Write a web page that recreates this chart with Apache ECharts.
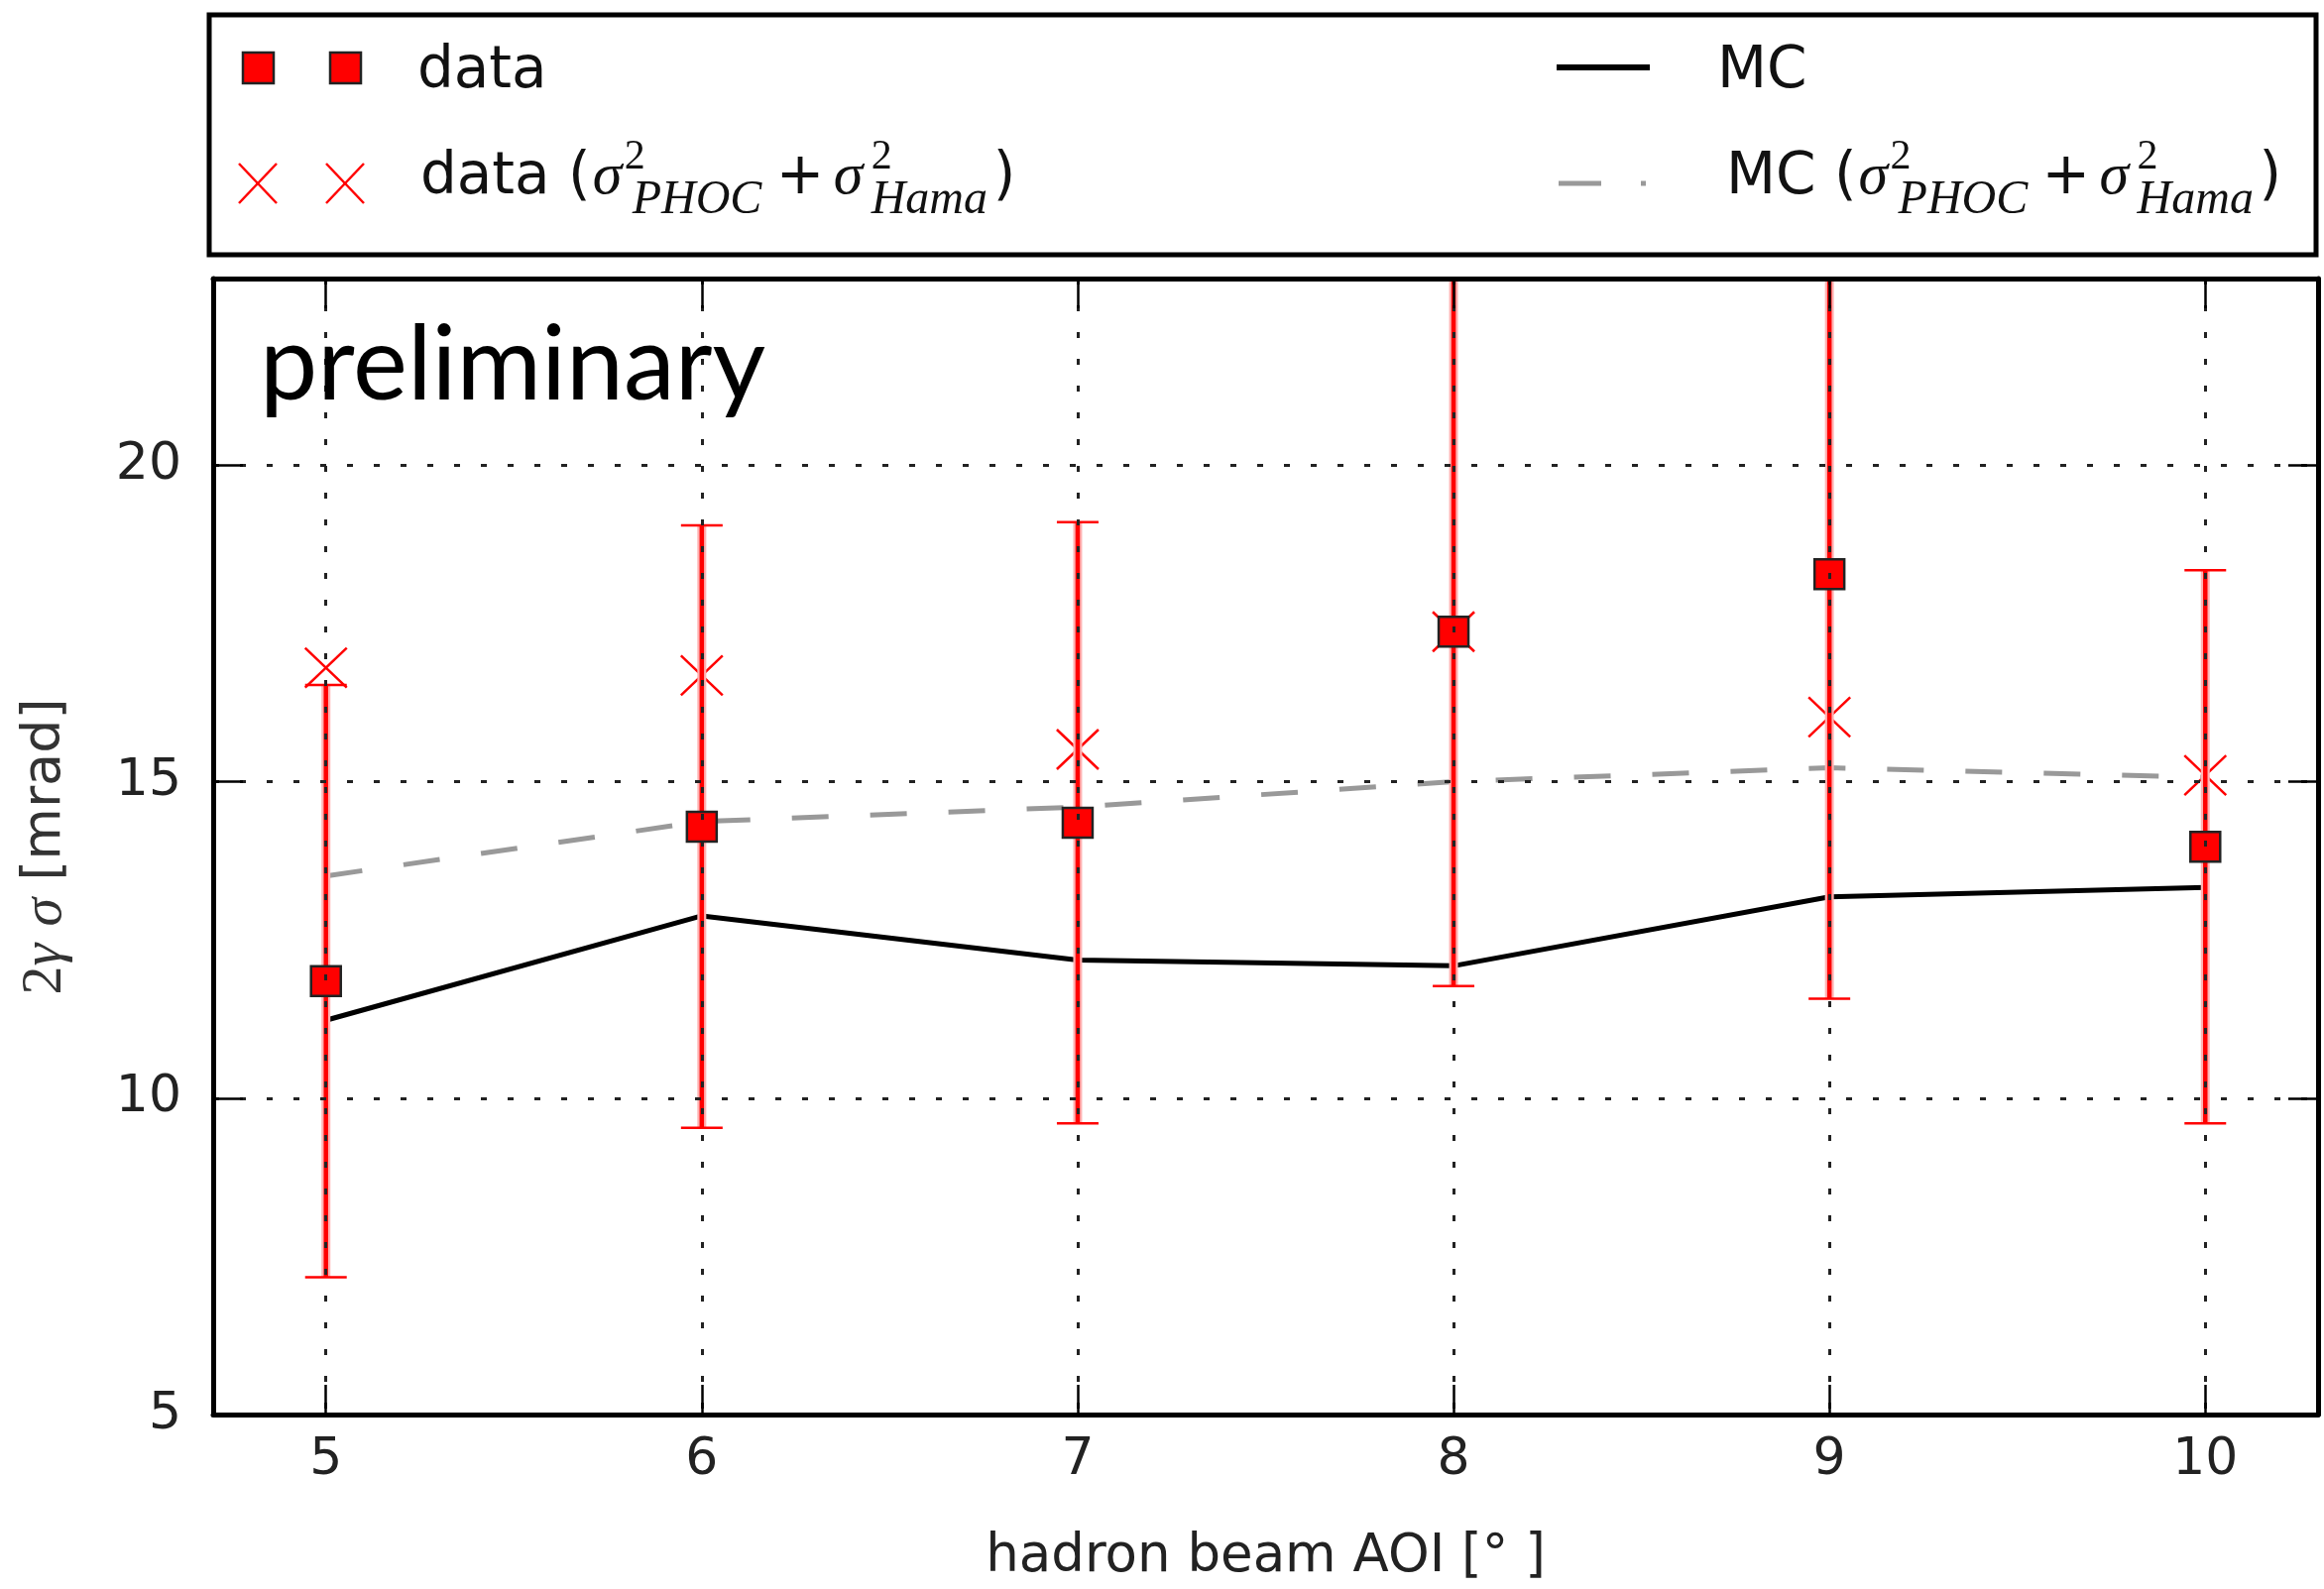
<!DOCTYPE html>
<html><head><meta charset="utf-8">
<script src="https://cdn.jsdelivr.net/npm/echarts@6/dist/echarts.min.js"></script>
<style>html,body{margin:0;padding:0;background:#fff}#c{width:2344px;height:1603px}</style>
</head><body><div id="c"></div>
<script>
// ---- data ----
const aoi      = [5, 6, 7, 8, 9, 10];                       // hadron beam AOI [deg]
const dataVal  = [11.85, 14.29, 14.35, 17.37, 18.28, 13.97]; // data (squares)
const dataErr  = [4.68, 4.76, 4.75, 5.60, 6.71, 4.37];       // symmetric error
const dataSum  = [16.80, 16.68, 15.51, 17.37, 16.02, 15.10]; // data (sigma^2 PHOC + sigma^2 Hama)
const mcVal    = [11.23, 12.88, 12.18, 12.09, 13.18, 13.33]; // MC
const mcSum    = [13.51, 14.37, 14.60, 15.00, 15.22, 15.07]; // MC (sigma^2 PHOC + sigma^2 Hama)
const xRange   = [4.7, 10.3];
const yRange   = [5, 22.95];
const yStep    = 5;

const RED = '#ff0000';
const SANS = '"DejaVu Sans"';
const SERIF = '"Liberation Serif"';

const pairs = (ys) => aoi.map((x, i) => [x, ys[i]]);
const errData = aoi.map((x, i) => [x, dataVal[i] - dataErr[i], dataVal[i] + dataErr[i]]);

const chart = echarts.init(document.getElementById('c'), null, {renderer: 'canvas'});

const gridLine = {show: true, showMinLine: false, showMaxLine: false,
  lineStyle: {color: '#222', width: 3, type: [6, 21]}};
const tickStyle = {show: true, inside: true, length: 30, lineStyle: {color: '#000', width: 2.5}};
const frameLine = {show: true, lineStyle: {color: '#000', width: 5}};

function mathLabel(prefix, x0, baseY) {
  const items = [];
  const mid = (fs) => baseY - 0.3 * fs;
  items.push({type: 'text', x: x0, y: mid(58), style: {text: prefix + ' (', font: '58px ' + SANS, fill: '#111', verticalAlign: 'middle'}});
  const ctx = document.createElement('canvas').getContext('2d');
  ctx.font = '58px ' + SANS;
  const P = x0 + ctx.measureText(prefix + ' (').width;
  const parts = [
    {t: 'σ', dx: 2, font: 'italic 60px ' + SERIF, fs: 60, dy: 0},
    {t: '2', dx: 34, font: '42px ' + SERIF, fs: 42, dy: -25},
    {t: 'PHOC', dx: 42, font: 'italic 48px ' + SERIF, fs: 48, dy: 20},
    {t: '+', dx: 187, font: '58px ' + SANS, fs: 58, dy: 0},
    {t: 'σ', dx: 245, font: 'italic 60px ' + SERIF, fs: 60, dy: 0},
    {t: '2', dx: 283, font: '42px ' + SERIF, fs: 42, dy: -25},
    {t: 'Hama', dx: 283, font: 'italic 48px ' + SERIF, fs: 48, dy: 20}
  ];
  parts.forEach(p => {
    items.push({type: 'text', x: P + p.dx, y: baseY + p.dy - 0.3 * p.fs,
      style: {text: p.t, font: p.font, fill: '#111', verticalAlign: 'middle'}});
  });
  items.push({type: 'text', x: P + 406, y: mid(58), style: {text: ')', font: '58px ' + SANS, fill: '#111', verticalAlign: 'middle'}});
  return items;
}

const xMark = (cx, cy, h, w) => [
  {type: 'line', shape: {x1: cx - w, y1: cy - h, x2: cx + w, y2: cy + h}, style: {stroke: RED, lineWidth: 2.5}},
  {type: 'line', shape: {x1: cx - w, y1: cy + h, x2: cx + w, y2: cy - h}, style: {stroke: RED, lineWidth: 2.5}}
];

const legendEls = [
  {type: 'rect', shape: {x: 211, y: 15, width: 2125, height: 242}, style: {fill: '#fff', stroke: '#000', lineWidth: 5}},
  {type: 'rect', shape: {x: 245, y: 53, width: 31, height: 31}, style: {fill: RED, stroke: '#222', lineWidth: 2.5}},
  {type: 'rect', shape: {x: 333, y: 53, width: 31, height: 31}, style: {fill: RED, stroke: '#222', lineWidth: 2.5}},
  {type: 'text', x: 421, y: 90 - 17, style: {text: 'data', font: '58px ' + SANS, fill: '#111', verticalAlign: 'middle'}},
  ...xMark(260, 185, 20, 19),
  ...xMark(348, 185, 20, 19),
  ...mathLabel('data', 424, 197),
  {type: 'line', shape: {x1: 1570, y1: 68, x2: 1664, y2: 68}, style: {stroke: '#000', lineWidth: 6}},
  {type: 'text', x: 1732, y: 90 - 17, style: {text: 'MC', font: '58px ' + SANS, fill: '#111', verticalAlign: 'middle'}},
  {type: 'line', shape: {x1: 1572, y1: 185, x2: 1615, y2: 185}, style: {stroke: '#999', lineWidth: 5}},
  {type: 'line', shape: {x1: 1655, y1: 185, x2: 1660, y2: 185}, style: {stroke: '#999', lineWidth: 5}},
  ...mathLabel('MC', 1741, 197),
  {type: 'text', x: 262, y: 400 - 31, z: 20, style: {text: 'preliminary', font: '104px Lato', fill: '#000', verticalAlign: 'middle'}}
];

const option = {
  animation: false,
  backgroundColor: '#fff',
  grid: {left: 215, right: 6, top: 281, bottom: 166, containLabel: false},
  xAxis: [
    {type: 'value', position: 'bottom', min: xRange[0], max: xRange[1], z: 10,
      axisLine: frameLine, axisTick: tickStyle, splitLine: gridLine,
      axisLabel: {show: true, showMinLabel: false, showMaxLabel: false, margin: 20,
        fontFamily: SANS, fontSize: 52, color: '#222'},
      name: 'hadron beam AOI [° ]', nameLocation: 'middle', nameGap: 118,
      nameTextStyle: {fontFamily: SANS, fontSize: 53, color: '#222'}},
    {type: 'value', position: 'top', min: xRange[0], max: xRange[1], z: 10,
      axisLine: frameLine, axisTick: tickStyle, splitLine: {show: false}, axisLabel: {show: false}}
  ],
  yAxis: [
    {type: 'value', position: 'left', min: yRange[0], max: yRange[1], interval: yStep, z: 10,
      axisLine: frameLine, axisTick: tickStyle, splitLine: gridLine,
      axisLabel: {show: true, showMaxLabel: false, margin: 32, fontFamily: SANS, fontSize: 52, color: '#222'},
      name: '{n|2}{g|γ} {g|σ} [mrad]', nameLocation: 'middle', nameGap: 140, nameRotate: 90,
      nameTextStyle: {fontFamily: SANS, fontSize: 54, color: '#333',
        rich: {n: {fontFamily: SERIF, fontSize: 58, color: '#333'},
               g: {fontFamily: SERIF, fontStyle: 'italic', fontSize: 58, color: '#333'}}}},
    {type: 'value', position: 'right', min: yRange[0], max: yRange[1], interval: yStep, z: 10,
      axisLine: frameLine, axisTick: tickStyle, splitLine: {show: false}, axisLabel: {show: false}}
  ],
  graphic: {elements: legendEls},
  series: [
    {name: 'data (σ²PHOC+σ²Hama)', type: 'custom', z: 2, data: pairs(dataSum),
      renderItem: (params, api) => {
        const p = api.coord([api.value(0), api.value(1)]);
        return {type: 'group', children: xMark(p[0], p[1], 20, 21)};
      }},
    {name: 'MC', type: 'line', z: 3, data: pairs(mcVal), symbol: 'none',
      lineStyle: {color: '#000', width: 5}},
    {name: 'MC (σ²PHOC+σ²Hama)', type: 'line', z: 3, data: pairs(mcSum), symbol: 'none',
      lineStyle: {color: '#999', width: 5, type: [37, 42]}},
    {name: 'data error', type: 'custom', z: 4, data: errData,
      renderItem: (params, api) => {
        const x = api.value(0);
        const pl = api.coord([x, api.value(1)]);
        const ph = api.coord([x, api.value(2)]);
        const cs = params.coordSys;
        const top = Math.max(ph[1], cs.y), bot = Math.min(pl[1], cs.y + cs.height);
        const ch = [
          {type: 'line', shape: {x1: pl[0], y1: top, x2: pl[0], y2: bot}, style: {stroke: '#ffb3b3', lineWidth: 9}},
          {type: 'line', shape: {x1: pl[0], y1: top, x2: pl[0], y2: bot}, style: {stroke: RED, lineWidth: 4.5}}
        ];
        if (ph[1] >= cs.y) ch.push({type: 'line', shape: {x1: ph[0] - 21, y1: ph[1], x2: ph[0] + 21, y2: ph[1]}, style: {stroke: RED, lineWidth: 2.5}});
        if (pl[1] <= cs.y + cs.height) ch.push({type: 'line', shape: {x1: pl[0] - 21, y1: pl[1], x2: pl[0] + 21, y2: pl[1]}, style: {stroke: RED, lineWidth: 2.5}});
        return {type: 'group', children: ch};
      }},
    {name: 'data', type: 'scatter', z: 5, data: pairs(dataVal), symbol: 'rect', symbolSize: 30,
      itemStyle: {color: RED, borderColor: '#222', borderWidth: 2.5, opacity: 1}}
  ]
};
chart.setOption(option);
</script></body></html>
